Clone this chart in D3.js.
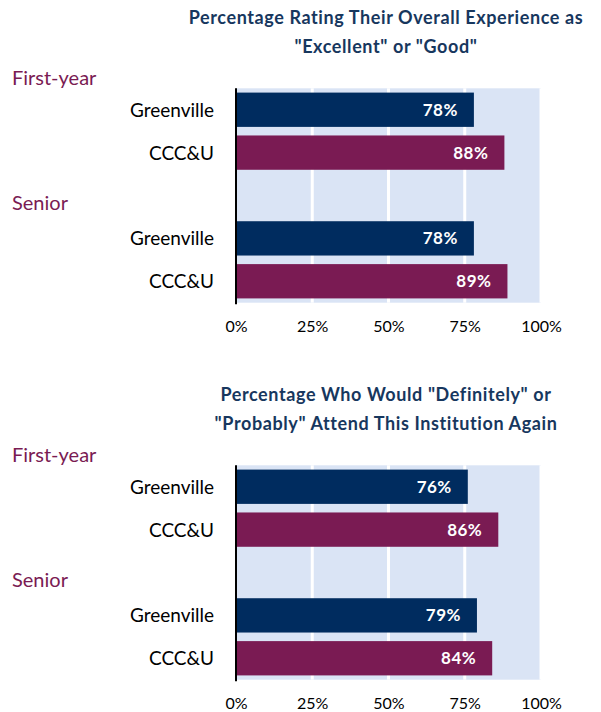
<!DOCTYPE html>
<html>
<head>
<meta charset="utf-8">
<script src="https://cdn.jsdelivr.net/npm/d3@7/dist/d3.min.js"></script>
<style>
	body{margin:0;background:#fff;}
	text{font-family:Lato, "Open Sans", sans-serif;}
</style>
</head>
<body>
<svg id="chart" width="601" height="712"></svg>
<script>
//data
var groups = ["First-year", "Senior"];
var schools = ["Greenville", "CCC&U"];
var experienceTitle = ["Percentage Rating Their Overall Experience as", "\"Excellent\" or \"Good\""];
var attendTitle = ["Percentage Who Would \"Definitely\" or", "\"Probably\" Attend This Institution Again"];
//first-year greenville, first-year ccc&u, senior greenville, senior ccc&u
var experienceValues = [78, 88, 78, 89];
var attendValues = [76, 86, 79, 84];
var tickValues = [0, 25, 50, 75, 100];

var navy = "#002C5F";
var maroon = "#7A1B53";
var titleColor = "#17375E";

var s = d3.select("#chart");

//x scale shared by both panels
var x = d3.scaleLinear()
	.domain([0, 100])
	.range([236, 541]);

//rows: two bars, a gap, two bars
var rows = [];
groups.forEach(function(g, gi){
	if(gi > 0) rows.push("gap" + gi);
	schools.forEach(function(sc){
		rows.push(g + "|" + sc);
	});
});

var y = d3.scaleBand()
	.domain(rows)
	.range([88.3, 302.7])
	.paddingInner(0.2)
	.paddingOuter(0.1);

function drawPanel(title, values, top){
	var g = s.append("g").attr("transform", "translate(0," + top + ")");

	//title
	g.selectAll("text.title")
		.data(title)
		.enter()
		.append("text")
		.attr("class", "title")
		.attr("x", 386)
		.attr("y", function(d, i){ return 24 + i*29; })
		.style("text-anchor", "middle")
		.style("font-weight", "bold")
		.style("font-size", "18px")
		.style("letter-spacing", "0.6px")
		.attr("fill", titleColor)
		.text(function(d){ return d; });

	//background
	g.append("rect")
		.attr("x", x(0))
		.attr("y", y.range()[0])
		.attr("width", x(100) - x(0))
		.attr("height", y.range()[1] - y.range()[0])
		.attr("fill", "#DAE4F5");

	//gridlines
	g.selectAll("line.grid")
		.data(tickValues.slice(1))
		.enter()
		.append("line")
		.attr("class", "grid")
		.attr("x1", function(d){ return x(d); })
		.attr("x2", function(d){ return x(d); })
		.attr("y1", y.range()[0])
		.attr("y2", y.range()[1])
		.attr("stroke", "#fff")
		.attr("stroke-width", 3);

	var dataset = [];
	groups.forEach(function(gr, gi){
		schools.forEach(function(sc, si){
			dataset.push({group: gr, school: sc, key: gr + "|" + sc, value: values[gi*2 + si], si: si});
		});
	});

	//bars
	g.selectAll("rect.bar")
		.data(dataset)
		.enter()
		.append("rect")
		.attr("class", "bar")
		.attr("x", x(0))
		.attr("y", function(d){ return y(d.key); })
		.attr("width", function(d){ return x(d.value) - x(0); })
		.attr("height", y.bandwidth())
		.attr("fill", function(d){ return d.si == 0 ? navy : maroon; });

	//value labels
	g.selectAll("text.val")
		.data(dataset)
		.enter()
		.append("text")
		.attr("class", "val")
		.attr("x", function(d){ return x(d.value) - 16; })
		.attr("y", function(d){ return y(d.key) + y.bandwidth()/2 + 6; })
		.style("text-anchor", "end")
		.style("font-weight", "bold")
		.style("font-size", "17px")
		.style("letter-spacing", "0.5px")
		.attr("fill", "#fff")
		.text(function(d){ return d.value + "%"; });

	//school labels
	g.selectAll("text.school")
		.data(dataset)
		.enter()
		.append("text")
		.attr("class", "school")
		.attr("x", 214)
		.attr("y", function(d){ return y(d.key) + y.bandwidth()/2 + 7; })
		.style("text-anchor", "end")
		.style("font-size", "19px")
		.attr("fill", "#000")
		.text(function(d){ return d.school; });

	//group labels
	g.selectAll("text.group")
		.data(groups)
		.enter()
		.append("text")
		.attr("class", "group")
		.attr("x", 12)
		.attr("y", function(d){ return y(d + "|" + schools[0]) - (d == groups[0] ? 8 : 11); })
		.style("font-size", "20px")
		.attr("fill", maroon)
		.text(function(d){ return d; });

	//axis
	var axis = d3.axisBottom(x)
		.tickValues(tickValues)
		.tickSize(0)
		.tickPadding(0)
		.tickFormat(function(d){ return d + "%"; });
	var ax = g.append("g")
		.attr("transform", "translate(0," + 321 + ")")
		.call(axis);
	ax.select(".domain").remove();
	ax.selectAll("text")
		.style("font-size", "16px")
		.style("font-family", "Lato, sans-serif")
		.attr("fill", "#000");

	//zero line
	g.append("line")
		.attr("x1", x(0))
		.attr("x2", x(0))
		.attr("y1", y.range()[0])
		.attr("y2", y.range()[1] + 1.5)
		.attr("stroke", "#000")
		.attr("stroke-width", 2);
}

drawPanel(experienceTitle, experienceValues, 0);
drawPanel(attendTitle, attendValues, 377);
</script>
</body>
</html>
